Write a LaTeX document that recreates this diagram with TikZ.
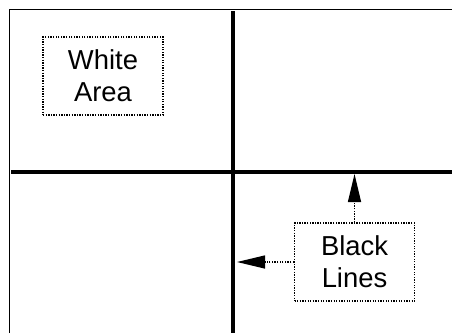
\documentclass[tikz,border=0pt]{standalone}
\usepackage{fontspec}
\setmainfont{Liberation Sans}
\usetikzlibrary{arrows.meta}

\begin{document}
\begin{tikzpicture}[
x=1bp, y=-1bp,
note/.style={
	draw, line width=1.3bp, dash pattern=on 1.3bp off 1.3bp,
	rectangle, minimum width=120bp, minimum height=78bp,
	inner sep=0pt, align=center, text=black,
	font=\fontsize{27.5}{32}\selectfont
},
bar/.style={line width=4bp},
pointer/.style={line width=1.3bp, dash pattern=on 1.3bp off 1.3bp,
	-{Triangle[length=28bp,width=13bp]}}
]
\useasboundingbox (0,0) rectangle (452,333);
% frame and the two black lines
\coordinate (fb) at (9,333);
\coordinate (ft) at (9,9);
\coordinate (fr) at (452,9);
\draw[line width=1bp] (fb) -- (ft) -- (fr);
\coordinate (vtop) at (233,11);
\coordinate (vbot) at (233,333);
\coordinate (hleft) at (11,172);
\coordinate (hright) at (452,172);
\draw[bar] (vtop) -- (vbot);
\draw[bar] (hleft) -- (hright);
% labels
\node[note] (white) at (103,76) {White\\Area};
\node[note] (black) at (354.5,262) {Black\\Lines};
\coordinate (hit1) at (354.5,174);
\coordinate (hit2) at (237,262);
\draw[pointer] (black.north) -- (hit1);
\draw[pointer] (black.west) -- (hit2);
\end{tikzpicture}
\end{document}
